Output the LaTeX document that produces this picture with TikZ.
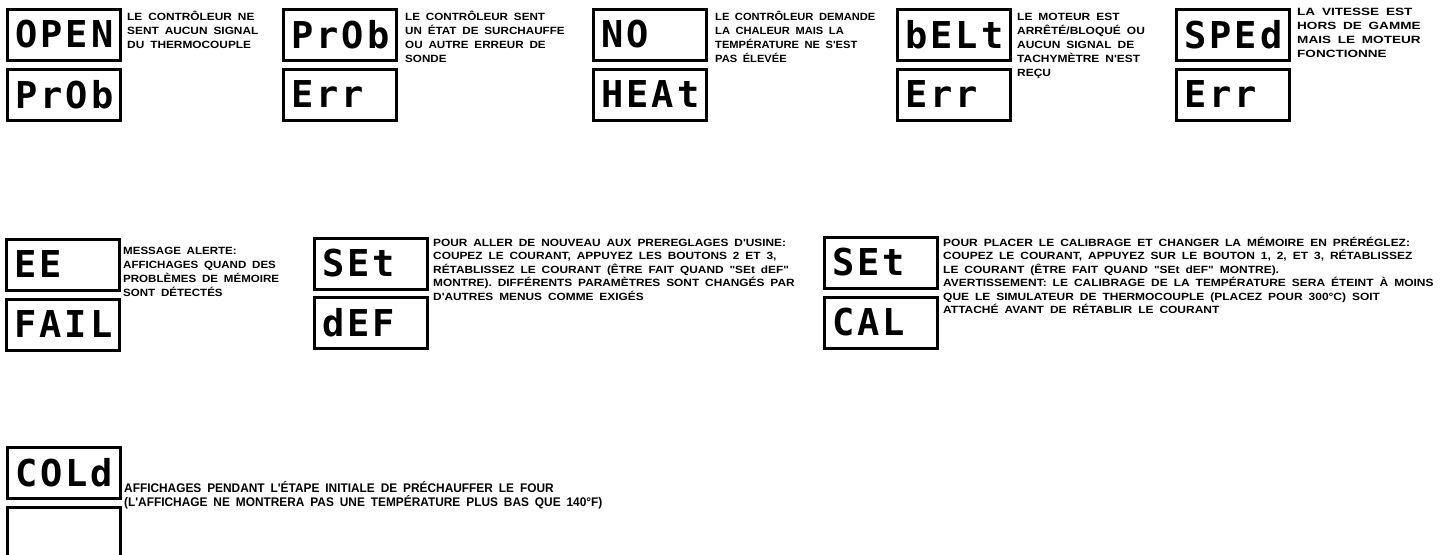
\documentclass[tikz,border=0pt]{standalone}
\usepackage{fontspec}
\usepackage{graphicx}
\newfontfamily\lblfont[WordSpace=1.8]{Liberation Sans Bold}
\newfontfamily\segfont[LetterSpace=8]{DejaVu Sans Mono Bold}
\newcommand\lbllines[7]{% prefix, x, first baseline, pitch, font size, stretch, lines
  \foreach \ln [count=\i] in {#7} {%
    \node[lbl=#5, anchor=base west] (#1\i) at (#2, {#3+(\i-1)*#4}) {\scalebox{#6}[1]{\ln}};}}
\begin{document}
\begin{tikzpicture}[x=1pt,y=-1pt,
  dispbox/.style={draw, line width=3pt, text width=97pt, inner xsep=8pt,
    minimum height=51pt, align=left, inner ysep=0pt,
    font=\segfont\fontsize{37}{37}\selectfont},
  lbl/.style={inner sep=0pt, font=\lblfont\fontsize{#1}{#1}\selectfont}]
\useasboundingbox (0,0) rectangle (1442,554);
\clip (0,0) rectangle (1442,554);
% ---- top row
\node[dispbox] (g1a) at (64,34.5) {OPEN};
\node[dispbox] (g1b) at (64,94.5) {PrOb};
\lbllines{g1t}{127}{20}{14}{10.5}{1.13}{{LE CONTRÔLEUR NE},{SENT AUCUN SIGNAL},{DU THERMOCOUPLE}}
\node[dispbox] (g2a) at (340,34.5) {PrOb};
\node[dispbox] (g2b) at (340,94.5) {Err};
\lbllines{g2t}{405}{20}{14}{10.5}{1.11}{{LE CONTRÔLEUR SENT},{UN ÉTAT DE SURCHAUFFE},{OU AUTRE ERREUR DE},{SONDE}}
\node[dispbox] (g3a) at (650,34.5) {NO};
\node[dispbox] (g3b) at (650,94.5) {HEAt};
\lbllines{g3t}{715}{20}{14}{10.5}{1.06}{{LE CONTRÔLEUR DEMANDE},{LA CHALEUR MAIS LA},{TEMPÉRATURE NE S'EST},{PAS ÉLEVÉE}}
\node[dispbox] (g4a) at (954,34.5) {bELt};
\node[dispbox] (g4b) at (954,94.5) {Err};
\lbllines{g4t}{1017}{20}{14}{10.5}{1.14}{{LE MOTEUR EST},{ARRÊTÉ/BLOQUÉ OU},{AUCUN SIGNAL DE},{TACHYMÈTRE N'EST},{REÇU}}
\node[dispbox] (g5a) at (1233,34.5) {SPEd};
\node[dispbox] (g5b) at (1233,94.5) {Err};
\lbllines{g5t}{1297}{15}{14}{10.5}{1.29}{{LA VITESSE EST},{HORS DE GAMME},{MAIS LE MOTEUR},{FONCTIONNE}}
% ---- middle row
\node[dispbox] (g6a) at (63,264.5) {EE};
\node[dispbox] (g6b) at (63,324.5) {FAIL};
\lbllines{g6t}{123}{254.5}{14}{10.5}{1.10}{{MESSAGE ALERTE:},{AFFICHAGES QUAND DES},{PROBLÈMES DE MÉMOIRE},{SONT DÉTECTÉS}}
\node[dispbox] (g7a) at (370.5,263.5) {SEt};
\node[dispbox] (g7b) at (370.5,322.5) {dEF};
\lbllines{g7t}{433}{246}{13.5}{10.5}{1.13}{{POUR ALLER DE NOUVEAU AUX PREREGLAGES D'USINE:},{COUPEZ LE COURANT, APPUYEZ LES BOUTONS 2 ET 3,},{RÉTABLISSEZ LE COURANT (ÊTRE FAIT QUAND "SEt dEF"},{MONTRE). DIFFÉRENTS PARAMÈTRES SONT CHANGÉS PAR},{D'AUTRES MENUS COMME EXIGÉS}}
\node[dispbox] (g8a) at (880.5,262.5) {SEt};
\node[dispbox] (g8b) at (880.5,322.5) {CAL};
\lbllines{g8t}{943}{246}{13.5}{10.5}{1.14}{{POUR PLACER LE CALIBRAGE ET CHANGER LA MÉMOIRE EN PRÉRÉGLEZ:},{COUPEZ LE COURANT, APPUYEZ SUR LE BOUTON 1, 2, ET 3, RÉTABLISSEZ},{LE COURANT (ÊTRE FAIT QUAND "SEt dEF" MONTRE).},{AVERTISSEMENT: LE CALIBRAGE DE LA TEMPÉRATURE SERA ÉTEINT À MOINS},{QUE LE SIMULATEUR DE THERMOCOUPLE (PLACEZ POUR 300°C) SOIT},{ATTACHÉ AVANT DE RÉTABLIR LE COURANT}}
% ---- bottom row
\node[dispbox] (g9a) at (63.5,472.5) {COLd};
\node[dispbox] (g9b) at (63.5,532.5) {};
\lbllines{g9t}{124}{492}{14}{12.5}{0.95}{{AFFICHAGES PENDANT L'ÉTAPE INITIALE DE PRÉCHAUFFER LE FOUR},{(L'AFFICHAGE NE MONTRERA PAS UNE TEMPÉRATURE PLUS BAS QUE 140°F)}}
\end{tikzpicture}
\end{document}
